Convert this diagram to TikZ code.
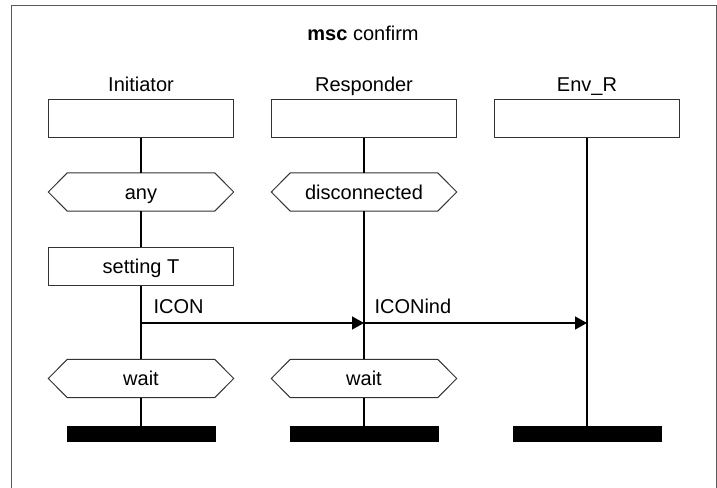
\documentclass[tikz,border=0pt]{standalone}
\usepackage{fontspec}
\setmainfont{Liberation Sans}
\usetikzlibrary{arrows.meta}

\newcommand{\hexcond}[1]{%
	\draw[black!80, line width=1pt]	(#1.west) -- ([xshift=19pt]#1.north west) -- ([xshift=-19pt]#1.north east)
									-- (#1.east) -- ([xshift=-19pt]#1.south east) -- ([xshift=19pt]#1.south west) -- cycle;}

\begin{document}
\begin{tikzpicture}[x=1pt, y=-1pt,
		every node/.style={font=\fontsize{20}{24}\selectfont, text=black},
		headbox/.style={draw=black!80, line width=1pt, minimum width=185pt, minimum height=38pt, inner sep=0pt,
			text height=16pt, text depth=2pt},
		condbox/.style={minimum width=185pt, minimum height=38pt, inner sep=0pt, text height=16pt, text depth=2pt},
		stopbar/.style={fill=black, minimum width=149pt, minimum height=16pt, inner sep=0pt},
		lifeline/.style={black, line width=2pt},
		msgline/.style={black, line width=1.3pt, -{Triangle[length=12pt, width=13pt]}}]
		\useasboundingbox (0,0) rectangle (717,487);

		\draw[black!65, line width=1pt]	(11,495) -- (11,6) -- (716,6) -- (716,495);

		\node[anchor=base] (title) at (363,41) {\textbf{msc} confirm};

		\node[anchor=base] (iname) at (141,91) {Initiator};
		\node[anchor=base] (rname) at (364,91) {Responder};
		\node[anchor=base] (ename) at (587,91) {Env\_R};

		\node[headbox] (ihead) at (141,118) {};
		\node[headbox] (rhead) at (364,118) {};
		\node[headbox] (ehead) at (587,118) {};

		\node[condbox] (iany) at (141,192) {any};
		\node[condbox] (rdisc) at (364,192) {disconnected};
		\hexcond{iany}
		\hexcond{rdisc}

		\node[headbox] (iset) at (141,266.5) {setting T};

		\node[condbox] (iwait) at (141,378.5) {wait};
		\node[condbox] (rwait) at (364,378.5) {wait};
		\hexcond{iwait}
		\hexcond{rwait}

		\node[stopbar] (istop) at (141,434) {};
		\node[stopbar] (rstop) at (364,434) {};
		\node[stopbar] (estop) at (587,434) {};

		\draw[lifeline]	(ihead.south) -- (iany.north)
						(iany.south) -- (iset.north)
						(iset.south) -- (iwait.north)
						(iwait.south) -- (istop.north);
		\draw[lifeline]	(rhead.south) -- (rdisc.north)
						(rdisc.south) -- (rwait.north)
						(rwait.south) -- (rstop.north);
		\draw[lifeline]	(ehead.south) -- (estop.north);

		\coordinate (msgrow) at (0,323);
		\draw[msgline]	(ihead.south |- msgrow) -- (rhead.south |- msgrow);
		\draw[msgline]	(rhead.south |- msgrow) -- (ehead.south |- msgrow);
		\node[anchor=base west] (iconlab) at (150,313) {ICON};
		\node[anchor=base west] (indlab) at (371,313) {ICONind};
	\end{tikzpicture}
\end{document}
